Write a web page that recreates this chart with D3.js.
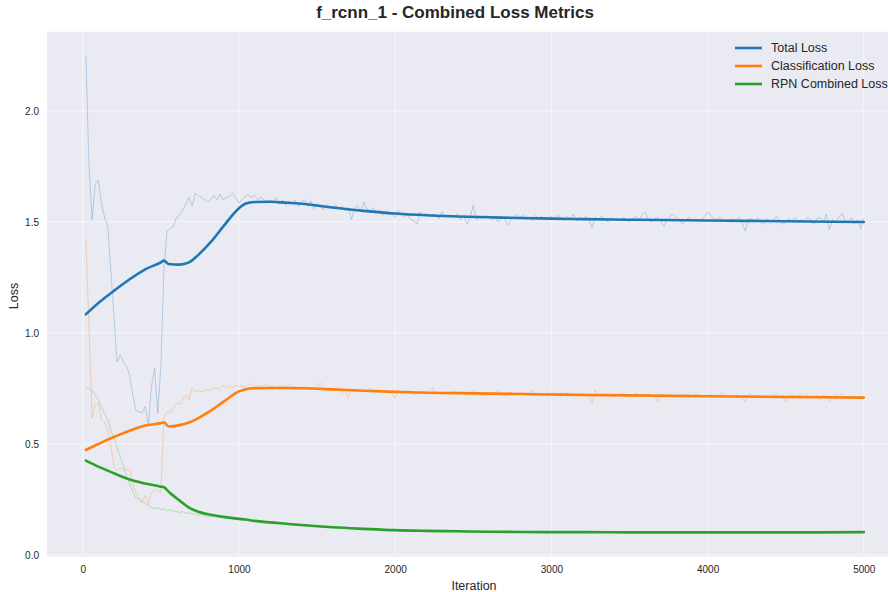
<!DOCTYPE html>
<html>
<head>
<meta charset="utf-8">
<script src="https://cdn.jsdelivr.net/npm/d3@7/dist/d3.min.js"></script>
<style>
  html, body { margin: 0; padding: 0; background: #fff; }
  svg { display: block; font-family: "Liberation Sans", Arial, sans-serif; }
</style>
</head>
<body>
<svg id="chart" width="888" height="592"></svg>
<script>
// Logged iterations (every 20 steps, 20..5000)
const iterations = d3.range(20, 5001, 20);

// Raw per-iteration losses
const totalLossRaw = [
  2.25, 1.75, 1.51, 1.67, 1.69, 1.58, 1.52, 1.48, 1.28, 1.07,
  0.87, 0.90, 0.87, 0.85, 0.81, 0.72, 0.65, 0.645, 0.64, 0.67,
  0.585, 0.76, 0.84, 0.64, 0.85, 1.30, 1.46, 1.47, 1.48, 1.52,
  1.53, 1.555, 1.58, 1.61, 1.57, 1.63, 1.62, 1.61, 1.60, 1.59,
  1.60, 1.62, 1.60, 1.625, 1.60, 1.61, 1.615, 1.63, 1.61, 1.585,
  1.60, 1.615, 1.622, 1.61, 1.62, 1.60, 1.61, 1.60, 1.585, 1.60,
  1.59, 1.61, 1.58, 1.60, 1.575, 1.595, 1.58, 1.60, 1.57, 1.59,
  1.60, 1.57, 1.595, 1.56, 1.585, 1.57, 1.555, 1.58, 1.57, 1.56,
  1.575, 1.555, 1.57, 1.55, 1.565, 1.51, 1.56, 1.575, 1.545, 1.59,
  1.56, 1.55, 1.565, 1.54, 1.555, 1.53, 1.55, 1.545, 1.535, 1.52,
  1.55, 1.535, 1.525, 1.53, 1.51, 1.505, 1.49, 1.545, 1.53, 1.54,
  1.525, 1.535, 1.53, 1.515, 1.545, 1.52, 1.53, 1.52, 1.525, 1.535,
  1.51, 1.53, 1.49, 1.52, 1.575, 1.51, 1.525, 1.515, 1.53, 1.52,
  1.51, 1.52, 1.50, 1.525, 1.515, 1.485, 1.51, 1.525, 1.535, 1.52,
  1.53, 1.51, 1.52, 1.505, 1.53, 1.515, 1.525, 1.51, 1.52, 1.525,
  1.51, 1.53, 1.52, 1.505, 1.525, 1.515, 1.535, 1.505, 1.52, 1.51,
  1.525, 1.51, 1.475, 1.52, 1.51, 1.525, 1.515, 1.50, 1.52, 1.51,
  1.515, 1.505, 1.52, 1.51, 1.50, 1.515, 1.525, 1.51, 1.53, 1.545,
  1.51, 1.50, 1.515, 1.52, 1.505, 1.48, 1.51, 1.525, 1.535, 1.52,
  1.505, 1.49, 1.51, 1.52, 1.505, 1.515, 1.50, 1.51, 1.525, 1.545,
  1.53, 1.515, 1.51, 1.52, 1.505, 1.51, 1.50, 1.515, 1.505, 1.52,
  1.495, 1.46, 1.51, 1.515, 1.505, 1.52, 1.50, 1.49, 1.515, 1.50,
  1.51, 1.525, 1.505, 1.49, 1.50, 1.515, 1.505, 1.52, 1.50, 1.51,
  1.505, 1.52, 1.51, 1.49, 1.515, 1.52, 1.50, 1.535, 1.465, 1.51,
  1.50, 1.52, 1.54, 1.505, 1.50, 1.52, 1.49, 1.51, 1.47, 1.515
];

const classLossRaw = [
  1.42, 1.02, 0.616, 0.683, 0.68, 0.608, 0.60, 0.56, 0.49, 0.40,
  0.38, 0.395, 0.383, 0.385, 0.39, 0.323, 0.28, 0.26, 0.24, 0.27,
  0.233, 0.28, 0.295, 0.29, 0.285, 0.62, 0.645, 0.64, 0.66, 0.683,
  0.68, 0.70, 0.72, 0.70, 0.755, 0.735, 0.74, 0.736, 0.74, 0.745,
  0.74, 0.75, 0.752, 0.745, 0.766, 0.75, 0.76, 0.755, 0.765, 0.76,
  0.762, 0.755, 0.765, 0.773, 0.758, 0.76, 0.765, 0.76, 0.77, 0.755,
  0.762, 0.75, 0.758, 0.765, 0.75, 0.768, 0.755, 0.76, 0.748, 0.755,
  0.76, 0.75, 0.755, 0.745, 0.762, 0.776, 0.75, 0.745, 0.755, 0.74,
  0.752, 0.745, 0.73, 0.748, 0.71, 0.745, 0.74, 0.75, 0.735, 0.745,
  0.738, 0.75, 0.74, 0.745, 0.735, 0.742, 0.73, 0.738, 0.728, 0.706,
  0.74, 0.725, 0.735, 0.73, 0.74, 0.72, 0.735, 0.728, 0.738, 0.73,
  0.74, 0.755, 0.725, 0.73, 0.72, 0.735, 0.728, 0.725, 0.738, 0.73,
  0.725, 0.735, 0.72, 0.73, 0.74, 0.725, 0.73, 0.715, 0.728, 0.735,
  0.72, 0.73, 0.738, 0.725, 0.713, 0.728, 0.735, 0.72, 0.73, 0.725,
  0.735, 0.72, 0.728, 0.74, 0.722, 0.73, 0.715, 0.728, 0.72, 0.735,
  0.725, 0.718, 0.73, 0.722, 0.735, 0.72, 0.728, 0.715, 0.73, 0.722,
  0.728, 0.72, 0.683, 0.746, 0.72, 0.725, 0.715, 0.728, 0.72, 0.712,
  0.725, 0.718, 0.73, 0.72, 0.708, 0.722, 0.73, 0.715, 0.725, 0.718,
  0.728, 0.712, 0.72, 0.69, 0.718, 0.725, 0.715, 0.722, 0.71, 0.72,
  0.715, 0.725, 0.718, 0.722, 0.712, 0.725, 0.72, 0.718, 0.714, 0.712,
  0.725, 0.718, 0.712, 0.722, 0.73, 0.715, 0.72, 0.712, 0.722, 0.718,
  0.71, 0.688, 0.72, 0.725, 0.712, 0.718, 0.722, 0.705, 0.718, 0.712,
  0.72, 0.728, 0.712, 0.718, 0.69, 0.715, 0.722, 0.71, 0.718, 0.725,
  0.712, 0.72, 0.705, 0.715, 0.722, 0.698, 0.72, 0.712, 0.692, 0.715,
  0.722, 0.71, 0.728, 0.715, 0.712, 0.71, 0.708, 0.71, 0.709, 0.708
];

const rpnLossRaw = [
  0.755, 0.75, 0.738, 0.72, 0.70, 0.665, 0.635, 0.61, 0.56, 0.525,
  0.485, 0.445, 0.40, 0.36, 0.322, 0.285, 0.26, 0.25, 0.238, 0.232,
  0.226, 0.215, 0.21, 0.212, 0.205, 0.208, 0.20, 0.205, 0.198, 0.196,
  0.192, 0.195, 0.188, 0.19, 0.185, 0.186, 0.18, 0.182, 0.176, 0.175,
  0.173, 0.174, 0.17, 0.168, 0.17, 0.166, 0.165, 0.163, 0.164, 0.16,
  0.16, 0.158, 0.159, 0.155, 0.154, 0.15, 0.156, 0.152, 0.15, 0.148,
  0.147, 0.15, 0.145, 0.144, 0.146, 0.142, 0.14, 0.141, 0.138, 0.137,
  0.136, 0.138, 0.133, 0.132, 0.134, 0.13, 0.129, 0.13, 0.127, 0.126,
  0.125, 0.127, 0.123, 0.122, 0.124, 0.12, 0.121, 0.119, 0.118, 0.12,
  0.117, 0.116, 0.118, 0.115, 0.114, 0.116, 0.113, 0.112, 0.114, 0.111,
  0.112, 0.11, 0.111, 0.109, 0.112, 0.108, 0.11, 0.109, 0.107, 0.11,
  0.108, 0.106, 0.109, 0.107, 0.105, 0.108, 0.106, 0.107, 0.105, 0.108,
  0.106, 0.105, 0.107, 0.104, 0.106, 0.105, 0.107, 0.104, 0.105, 0.106,
  0.104, 0.106, 0.105, 0.103, 0.105, 0.106, 0.104, 0.105, 0.103, 0.105,
  0.104, 0.106, 0.103, 0.105, 0.104, 0.103, 0.105, 0.104, 0.106, 0.103,
  0.104, 0.103, 0.105, 0.104, 0.102, 0.104, 0.105, 0.103, 0.104, 0.102,
  0.104, 0.103, 0.105, 0.102, 0.104, 0.103, 0.102, 0.104, 0.103, 0.105,
  0.102, 0.104, 0.103, 0.102, 0.104, 0.103, 0.105, 0.102, 0.103, 0.104,
  0.103, 0.102, 0.104, 0.103, 0.102, 0.104, 0.103, 0.101, 0.103, 0.104,
  0.102, 0.103, 0.101, 0.103, 0.104, 0.102, 0.103, 0.102, 0.104, 0.103,
  0.102, 0.104, 0.103, 0.102, 0.103, 0.101, 0.103, 0.104, 0.102, 0.103,
  0.104, 0.102, 0.103, 0.101, 0.103, 0.102, 0.104, 0.103, 0.102, 0.103,
  0.102, 0.103, 0.104, 0.102, 0.103, 0.101, 0.103, 0.102, 0.104, 0.103,
  0.103, 0.102, 0.104, 0.103, 0.102, 0.103, 0.101, 0.103, 0.104, 0.102,
  0.103, 0.102, 0.104, 0.103, 0.102, 0.104, 0.103, 0.102, 0.103, 0.104
];

// Smoothed trend, sampled at these iterations
const trendIterations = [20, 100, 200, 300, 400, 500, 520, 550, 620, 680, 740, 820, 900, 1000, 1040, 1100,
  1200, 1300, 1400, 1600, 1800, 2000, 2200, 2400, 2600, 2800, 3000, 3200, 3500, 4000, 4500, 5000];
const totalLossTrend = [1.084, 1.135, 1.19, 1.242, 1.287, 1.318, 1.326, 1.311, 1.308, 1.318, 1.352, 1.41, 1.48, 1.562, 1.582, 1.59,
  1.591, 1.587, 1.582, 1.565, 1.55, 1.538, 1.53, 1.525, 1.521, 1.518, 1.515, 1.513, 1.51, 1.507, 1.503, 1.50];
const classLossTrend = [0.473, 0.50, 0.532, 0.56, 0.583, 0.594, 0.597, 0.579, 0.585, 0.597, 0.617, 0.65, 0.69, 0.737, 0.746, 0.751,
  0.752, 0.752, 0.751, 0.746, 0.74, 0.735, 0.731, 0.729, 0.727, 0.725, 0.723, 0.721, 0.719, 0.715, 0.712, 0.709];
const rpnLossTrend = [0.425, 0.398, 0.368, 0.34, 0.322, 0.308, 0.305, 0.285, 0.245, 0.214, 0.195, 0.181, 0.172, 0.163, 0.16, 0.154,
  0.147, 0.141, 0.135, 0.125, 0.118, 0.112, 0.109, 0.107, 0.105, 0.104, 0.103, 0.103, 0.102, 0.102, 0.102, 0.103];

const seriesNames = ["Total Loss", "Classification Loss", "RPN Combined Loss"];
const seriesColors = ["#1f77b4", "#ff7f0e", "#2ca02c"];
const xTicks = [0, 1000, 2000, 3000, 4000, 5000];
const yTicks = [0.0, 0.5, 1.0, 1.5, 2.0];

const svg = d3.select("#chart");
const plot = { left: 47, top: 31.7, right: 902.7, bottom: 556.7 };

const x = d3.scaleLinear().domain([-229, 5249]).range([plot.left, plot.right]);
const y = d3.scaleLinear().domain([-0.0075, 2.357]).range([plot.bottom, plot.top]);

svg.append("defs").append("clipPath").attr("id", "plot-clip")
  .append("rect")
  .attr("x", plot.left).attr("y", plot.top)
  .attr("width", plot.right - plot.left).attr("height", plot.bottom - plot.top);

// Axes background
svg.append("rect")
  .attr("x", plot.left).attr("y", plot.top)
  .attr("width", plot.right - plot.left).attr("height", plot.bottom - plot.top)
  .attr("fill", "#eaeaf2");

// Grid
const grid = svg.append("g").attr("clip-path", "url(#plot-clip)")
  .attr("stroke", "#fff").attr("stroke-opacity", 0.55).attr("stroke-width", 1);
grid.selectAll(".gx").data(xTicks).join("line")
  .attr("x1", d => x(d)).attr("x2", d => x(d))
  .attr("y1", plot.top).attr("y2", plot.bottom);
grid.selectAll(".gy").data(yTicks).join("line")
  .attr("x1", plot.left).attr("x2", plot.right)
  .attr("y1", d => y(d)).attr("y2", d => y(d));

// Tick labels via d3 axes (no tick marks or domain line)
const xAxis = svg.append("g")
  .attr("transform", `translate(0,${plot.bottom})`)
  .call(d3.axisBottom(x).tickValues(xTicks).tickSize(0).tickPadding(9).tickFormat(d3.format("d")));
const yAxis = svg.append("g")
  .attr("transform", `translate(${plot.left},0)`)
  .call(d3.axisLeft(y).tickValues(yTicks).tickSize(0).tickPadding(8).tickFormat(d3.format(".1f")));
[xAxis, yAxis].forEach(a => {
  a.select(".domain").remove();
  a.selectAll("text")
    .attr("font-family", "Liberation Sans, Arial, sans-serif")
    .attr("font-size", 10).attr("fill", "#262626");
});

// Lines
const lines = svg.append("g").attr("clip-path", "url(#plot-clip)");
const rawLine = d3.line().x(d => x(d[0])).y(d => y(d[1]));
const trendLine = d3.line().x(d => x(d[0])).y(d => y(d[1])).curve(d3.curveMonotoneX);

const rawSeries = [totalLossRaw, classLossRaw, rpnLossRaw];
const trendSeries = [totalLossTrend, classLossTrend, rpnLossTrend];

rawSeries.forEach((vals, i) => {
  lines.append("path")
    .datum(iterations.map((it, k) => [it, vals[k]]))
    .attr("d", rawLine)
    .attr("fill", "none")
    .attr("stroke", seriesColors[i])
    .attr("stroke-opacity", 0.28)
    .attr("stroke-width", 1);
});
trendSeries.forEach((vals, i) => {
  lines.append("path")
    .datum(trendIterations.map((it, k) => [it, vals[k]]))
    .attr("d", trendLine)
    .attr("fill", "none")
    .attr("stroke", seriesColors[i])
    .attr("stroke-width", 2.6)
    .attr("stroke-linecap", "round");
});

// Legend
const legend = svg.append("g").attr("transform", "translate(735,48)");
seriesNames.forEach((name, i) => {
  const g = legend.append("g").attr("transform", `translate(0,${i * 18})`);
  g.append("line").attr("x1", 0).attr("x2", 27).attr("y1", 0).attr("y2", 0)
    .attr("stroke", seriesColors[i]).attr("stroke-width", 2.6);
  g.append("text").attr("x", 36).attr("y", 4.4)
    .attr("font-size", 12.5).attr("fill", "#262626").text(name);
});

// Titles
svg.append("text")
  .attr("x", 455).attr("y", 18)
  .attr("text-anchor", "middle")
  .attr("font-size", 17).attr("font-weight", "bold").attr("fill", "#262626")
  .text("f_rcnn_1 - Combined Loss Metrics");
svg.append("text")
  .attr("x", 474).attr("y", 590)
  .attr("text-anchor", "middle")
  .attr("font-size", 12.5).attr("fill", "#262626")
  .text("Iteration");
svg.append("text")
  .attr("transform", "translate(18,296) rotate(-90)")
  .attr("text-anchor", "middle")
  .attr("font-size", 12.5).attr("fill", "#262626")
  .text("Loss");
</script>
</body>
</html>
